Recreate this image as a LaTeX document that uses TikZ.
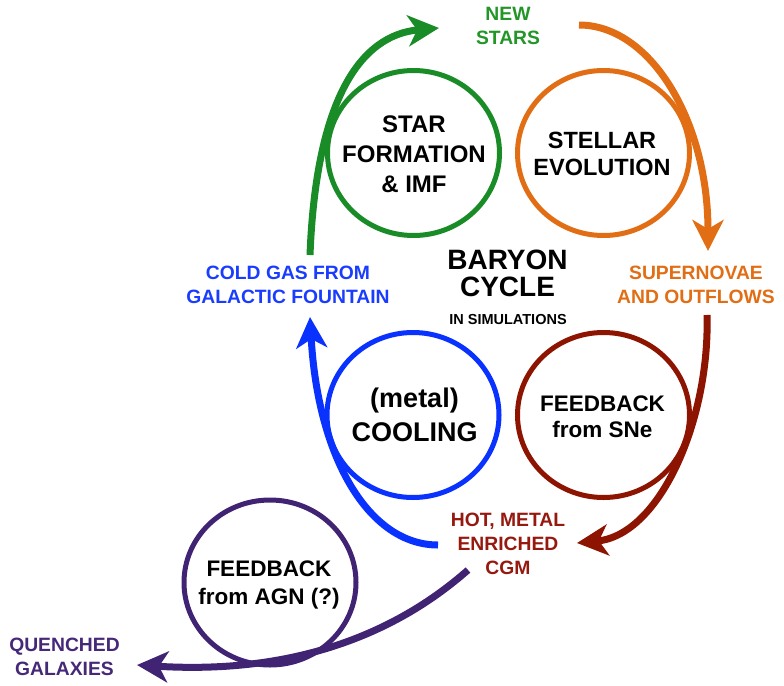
\documentclass[tikz,border=0pt]{standalone}
\usepackage{fontspec}
\setmainfont{Liberation Sans}
\usetikzlibrary{arrows.meta,shapes.geometric}
\definecolor{cgreen}{RGB}{25,140,40}
\definecolor{tgreen}{RGB}{35,150,40}
\definecolor{corange}{RGB}{225,110,20}
\definecolor{cred}{RGB}{140,20,0}
\definecolor{tred}{RGB}{150,25,15}
\definecolor{cblue}{RGB}{10,50,255}
\definecolor{tblue}{RGB}{25,60,255}
\definecolor{cpurple}{RGB}{65,35,115}
\definecolor{tpurple}{RGB}{70,40,120}
\begin{document}
\begin{tikzpicture}[x=1pt,y=-1pt,
  ring/.style={draw, ellipse, line width=5pt, minimum width=172pt, minimum height=165pt, inner sep=0pt},
  ctext/.style={align=center, inner sep=0pt, font=\bfseries},
  ltext/.style={align=center, inner sep=0pt, font=\bfseries\fontsize{19.3}{24}\selectfont},
  flow/.style={line width=7pt, -{Stealth[length=31pt,width=31pt,inset=9pt]}}]
\useasboundingbox (0,0) rectangle (784,685);

% rings
\node[ring, cgreen] (sf) at (413.5,153) {};
\node[ring, corange] (se) at (603.5,153) {};
\node[ring, cred] (fb) at (603.5,415) {};
\node[ring, cblue] (co) at (413,415) {};
\node[ring, cpurple] (agn) at (270,582.5) {};

% circle texts
\node[ctext, font=\bfseries\fontsize{24}{30}\selectfont] (sft) at (414,153.75) {STAR\\FORMATION\\\& IMF};
\node[ctext, font=\bfseries\fontsize{23.5}{27.5}\selectfont] (set) at (602,154) {STELLAR\\EVOLUTION};
\node[ctext, font=\bfseries\fontsize{22.5}{26.5}\selectfont] (fbt) at (602.5,416.5) {FEEDBACK\\from SNe};
\node[ctext, font=\bfseries\fontsize{27}{34.5}\selectfont] (cot) at (414.5,415) {(metal)\\COOLING};
\node[ctext, font=\bfseries\fontsize{22.5}{27.5}\selectfont] (agnt) at (269,585) {FEEDBACK\\from AGN (?)};

% centre title
\node[ctext, font=\bfseries\fontsize{28}{27}\selectfont] (title) at (507.5,273) {BARYON\\CYCLE};
\node[ctext, font=\bfseries\fontsize{14.5}{14.5}\selectfont] (sub) at (508,320) {IN SIMULATIONS};

% labels
\node[ltext, tgreen] (ns) at (508,26) {NEW\\STARS};
\node[ltext, corange] (sn) at (696,285) {SUPERNOVAE\\AND OUTFLOWS};
\node[ltext, tblue] (cg) at (288,284.5) {COLD GAS FROM\\GALACTIC FOUNTAIN};
\node[ltext, tred] (hot) at (508,544) {HOT, METAL\\ENRICHED\\CGM};
\node[ltext, tpurple] (qg) at (64.5,657) {QUENCHED\\GALAXIES};

% arrow end points
\coordinate (gs) at (310,255);
\coordinate (ge) at (439,28);
\coordinate (os) at (579,25);
\coordinate (oe) at (708,251);
\coordinate (rs) at (707,315);
\coordinate (re) at (577,543);
\coordinate (bs) at (438,545);
\coordinate (be) at (310,317);
\coordinate (ps) at (468,570);
\coordinate (pe) at (137,665);

% arrows
\draw[flow, cgreen] (gs) .. controls (316,100) and (360,35) .. (ge);
\draw[flow, corange] (os) .. controls (650,25) and (708,120) .. (oe);
\draw[flow, cred] (rs) .. controls (710,420) and (660,535) .. (re);
\draw[flow, cblue] (bs) .. controls (370,545) and (318,460) .. (be);
\draw[flow, cpurple] (ps) .. controls (400,630) and (300,675) .. (pe);
\end{tikzpicture}
\end{document}
